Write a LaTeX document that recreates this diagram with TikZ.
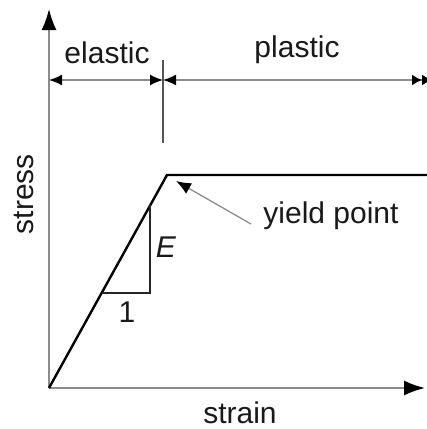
\documentclass[tikz,border=0pt]{standalone}
\usepackage{fontspec}
\setmainfont{Liberation Sans}
\usetikzlibrary{arrows.meta}
\definecolor{axisgray}{RGB}{140,140,140}
\tikzset{
  dimhead/.tip={Latex[length=13pt,width=11pt,color=black]},
  dblhead/.tip={Latex[length=10pt,width=11pt,color=black]Latex[length=10pt,width=11pt,color=black]},
  axisline/.style={draw=axisgray, line width=1.8pt, -{Latex[length=21pt,width=15pt,color=black]}},
  dimline/.style={draw=axisgray, line width=1.6pt},
  curve/.style={draw=black, line width=2.4pt, line join=miter},
  tri/.style={draw=black!85, line width=2pt},
  lbl/.style={font=\fontsize{30}{35}\selectfont, inner sep=0pt, text=black!90},
}
\begin{document}
\begin{tikzpicture}[x=1pt,y=-1pt]
\useasboundingbox (0,0) rectangle (427,429);
\clip (0,0) rectangle (427,429);
% key points
\coordinate (O) at (49,388);
\coordinate (ytop) at (49,9);
\coordinate (xend) at (425,388);
\coordinate (Y) at (167,175);
\coordinate (R) at (427,175);
\coordinate (tA) at (150,205);
\coordinate (tB) at (150,293);
\coordinate (tC) at (102,293);
\coordinate (dL) at (49,80);
\coordinate (dM) at (163,80);
\coordinate (dR) at (432,80);
\coordinate (tickT) at (163,60);
\coordinate (tickB) at (163,143);
\coordinate (yp0) at (251,224);
\coordinate (yp1) at (176,181);
% axes
\draw[axisline] (O) -- (ytop);
\draw[axisline] (O) -- (xend);
% curve
\draw[curve] (O) -- (Y) -- (R);
% slope triangle
\draw[tri] (tA) -- (tB) -- (tC);
% dimension lines
\draw[dimline, dimhead-dimhead] (dL) -- (dM);
\draw[dimline, dimhead-dblhead] (dM) -- (dR);
\draw[axisgray!60!black, line width=1.3pt] (tickT) -- (tickB);
% yield pointer
\draw[axisgray, line width=1.3pt, -{Latex[length=15pt,width=12pt,color=black]}] (yp0) -- (yp1);
% labels
\node[lbl] (elastic) at (107,53) {elastic};
\node[lbl] (plastic) at (297,50) {plastic};
\node[lbl, rotate=90] (stress) at (24,194) {stress};
\node[lbl] (strain) at (240,413) {strain};
\node[lbl] (yield) at (331,216) {yield point};
\node[lbl, font=\fontsize{30}{35}\selectfont\itshape] (E) at (166,247) {E};
\node[lbl] (one) at (127,312) {1};
\end{tikzpicture}
\end{document}
